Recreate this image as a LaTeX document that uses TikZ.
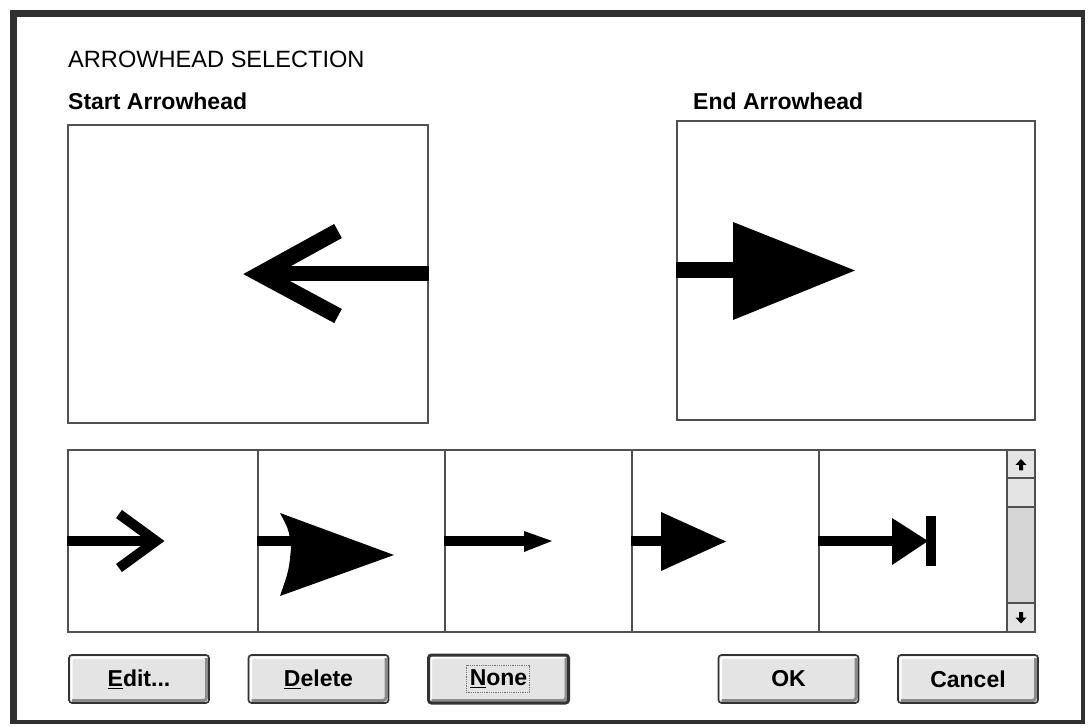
\documentclass[tikz,border=0pt]{standalone}
\usepackage{fontspec}
\setmainfont{Liberation Sans}
\definecolor{btngray}{HTML}{E4E4E4}
\definecolor{trackgray}{HTML}{D6D6D6}
\definecolor{framegray}{HTML}{303030}
\definecolor{boxline}{HTML}{505050}
\begin{document}
\begin{tikzpicture}[x=1pt,y=-1pt,
  panel/.style={draw=boxline, line width=1.5pt, fill=white, inner sep=0pt},
  lbl/.style={font=\fontsize{23}{27}\selectfont\bfseries, inner sep=0pt, anchor=base west},
  ttl/.style={font=\fontsize{23.6}{28}\selectfont, inner sep=0pt, anchor=base west},
  btn/.style={draw=black!80, line width=1.6pt, rounded corners=3pt, fill=btngray,
    minimum width=140pt, minimum height=48pt, inner sep=0pt,
    font=\fontsize{23}{27}\selectfont\bfseries,
    path picture={
      \draw[white, line width=2pt]
        ([shift={(2.5pt,3pt)}]path picture bounding box.south west) --
        ([shift={(2.5pt,-2.5pt)}]path picture bounding box.north west) --
        ([shift={(-3pt,-2.5pt)}]path picture bounding box.north east);
      \draw[black!45, line width=3pt]
        ([shift={(3pt,2.5pt)}]path picture bounding box.south west) --
        ([shift={(-2.5pt,2.5pt)}]path picture bounding box.south east) --
        ([shift={(-2.5pt,-3pt)}]path picture bounding box.north east);
    }},
  sbpart/.style={draw=boxline, line width=1.3pt, minimum width=28pt, inner sep=0pt},
  bigshaft/.style={line width=15pt, black},
  smallshaft/.style={line width=10pt, black},
  chevron/.style={line join=miter, line cap=butt, black},
  headfill/.style={fill=black, draw=none}
]
\useasboundingbox (0,0) rectangle (1088,727);
\fill[white] (0,0) rectangle (1088,727);

% outer window frame
\draw[framegray, line width=7pt] (10,13.5) -- (1085,13.5);
\draw[framegray, line width=7pt] (13.5,10) -- (13.5,724);
\draw[framegray, line width=4pt] (1083,10) -- (1083,724);
\draw[framegray, line width=4pt] (10,722) -- (1085,722);

% titles
\node[ttl] (title) at (68,68) {ARROWHEAD SELECTION};
\node[lbl] (startlbl) at (68,110) {Start Arrowhead};
\node[lbl] (endlbl) at (693,110) {End Arrowhead};

% preview boxes
\node[panel, minimum width=360pt, minimum height=298pt] (startbox) at (248,274) {};
\node[panel, minimum width=358pt, minimum height=299pt] (endbox) at (856,270.5) {};

% start arrowhead (open chevron pointing left)
\coordinate (sv) at (260,274);
\draw[bigshaft] (startbox.east) -- (sv);
\draw[line width=16pt, chevron] (338,231) -- (sv) -- (338,316);

% end arrowhead (filled triangle)
\draw[line width=16pt, black] (endbox.west) -- (736,270.5);
\fill[headfill] (733,222) -- (855,270.5) -- (733,320) -- cycle;

% selection strip
\node[panel, minimum width=190pt, minimum height=182pt] (cell1) at (163,541) {};
\node[panel, minimum width=187pt, minimum height=182pt] (cell2) at (351.5,541) {};
\node[panel, minimum width=187pt, minimum height=182pt] (cell3) at (538.5,541) {};
\node[panel, minimum width=187pt, minimum height=182pt] (cell4) at (725.5,541) {};
\node[panel, minimum width=188pt, minimum height=182pt] (cell5) at (913,541) {};

% cell 1: open chevron
\coordinate (c1v) at (156,541);
\draw[smallshaft] (cell1.west) -- (c1v);
\draw[smallshaft, chevron] (119,514) -- (c1v) -- (119,568);

% cell 2: large barbed triangle
\draw[smallshaft] (cell2.west) -- (292,541);
\fill[headfill] (280,513) -- (394,555) -- (280,596)
  .. controls (289,570) .. (291,548) .. controls (289,530) .. cycle;

% cell 3: thin arrow with small head
\draw[smallshaft] (cell3.west) -- (527,541);
\fill[headfill] (524,531) -- (552,541) -- (524,552) -- cycle;

% cell 4: medium triangle
\draw[smallshaft] (cell4.west) -- (664,541);
\fill[headfill] (661,512) -- (726,541.5) -- (661,571) -- cycle;

% cell 5: triangle with bar
\draw[smallshaft] (cell5.west) -- (895,541);
\fill[headfill] (892,518) -- (928,541) -- (892,565) -- cycle;
\fill[headfill] (926,516) rectangle (936,566);

% scrollbar
\node[sbpart, fill=btngray, minimum height=28pt] (sbup) at (1021,464) {};
\node[sbpart, fill=btngray, minimum height=29pt] (sbthumb) at (1021,492.5) {};
\node[sbpart, fill=trackgray, minimum height=96pt] (sbtrack) at (1021,555) {};
\node[sbpart, fill=btngray, minimum height=29pt] (sbdown) at (1021,617.5) {};
\fill[black] (1021,459) -- (1026.5,465) -- (1023,465) -- (1023,470.5) -- (1019,470.5) -- (1019,465) -- (1015.5,465) -- cycle;
\fill[black] (1021,623.5) -- (1026.5,617.5) -- (1023,617.5) -- (1023,612) -- (1019,612) -- (1019,617.5) -- (1015.5,617.5) -- cycle;

% buttons
\node[btn] (edit) at (139,679) {\underline{E}dit...};
\node[btn] (delete) at (318.5,679) {\underline{D}elete};
\node[btn, line width=3pt] (none) at (498.5,679) {\underline{N}one};
\draw[black!55, densely dotted, line width=0.8pt]
  ([shift={(-32pt,-13.5pt)}]none.center) rectangle ([shift={(31pt,13.5pt)}]none.center);
\node[btn] (ok) at (788.5,679) {OK};
\node[btn] (cancel) at (968,679) {Cancel};
\end{tikzpicture}
\end{document}
